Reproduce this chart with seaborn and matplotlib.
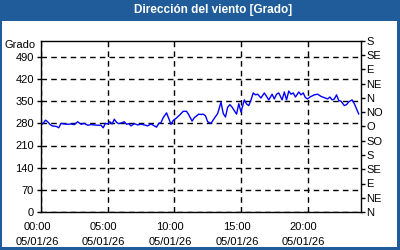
import matplotlib
matplotlib.use("Agg")
import matplotlib.pyplot as plt
import matplotlib.transforms as mtrans
import seaborn as sns
import pandas as pd
from matplotlib.patches import Rectangle
from matplotlib.ticker import MultipleLocator

# ---------------- data ----------------
times = ["00:00","00:10","00:20","00:30","00:40","00:50","01:00","01:10","01:20","01:30",
         "01:45","02:00","02:15","02:30","02:45","03:00","03:15","03:30","03:45","04:00",
         "04:15","04:30","04:40","04:50","05:00","05:10","05:20","05:30","05:40","05:50",
         "06:00","06:15","06:25","06:35","06:45","07:00","07:15","07:30","07:45","08:00",
         "08:15","08:30","08:40","08:50","09:00","09:10","09:25","09:35","09:45","09:55",
         "10:10","10:25","10:40","10:55","11:05","11:20","11:30","11:50","12:00","12:10",
         "12:20","12:30","12:45","13:00","13:15","13:30","13:40","13:50","14:00","14:10",
         "14:20","14:40","14:50","15:00","15:15","15:25","15:35","15:45","15:55","16:05",
         "16:15","16:30","16:45","17:05","17:20","17:30","17:40","17:50","18:05","18:15",
         "18:25","18:35","18:45","18:55","19:05","19:20","19:30","19:40","19:50","20:00",
         "20:10","20:30","20:45","21:00","21:15","21:30","21:40","21:50","22:00","22:10",
         "22:20","22:30","22:45","22:55","23:05","23:20","23:30","23:50"]
direction = [275,280,290,285,277,272,271,270,266,280,
             278,277,278,276,285,277,280,274,276,275,
             274,274,266,280,278,285,278,293,283,279,
             281,285,277,279,272,279,275,277,275,272,
             278,272,268,280,282,298,313,295,277,289,
             297,307,318,318,307,287,298,309,308,309,
             304,285,280,296,311,347,311,300,331,339,
             331,309,342,316,354,341,336,354,376,370,
             372,360,376,354,372,357,372,376,354,379,
             354,382,372,376,363,379,370,376,361,357,
             363,370,372,365,361,357,363,354,357,370,
             352,350,336,339,348,354,342,309]

left_ticks = [0, 70, 140, 210, 280, 350, 420, 490]
right_ticks = [0, 45, 90, 135, 180, 225, 270, 315, 360, 405, 450, 495, 540]
right_labels = ["N", "NE", "E", "SE", "S", "SO", "O", "NO", "N", "NE", "E", "SE", "S"]
x_ticks = [0, 5, 10, 15, 20]
x_labels = ["00:00\n05/01/26", "05:00\n05/01/26", "10:00\n05/01/26",
            "15:00\n05/01/26", "20:00\n05/01/26"]
title = "Dirección del viento [Grado]"
unit = "Grado"

hours = [int(t[:2]) + int(t[3:]) / 60 for t in times]
df = pd.DataFrame({"hora": hours, "dir": direction})

# ---------------- style ----------------
sns.set_style("white")
plt.rcParams["font.family"] = ["Liberation Sans", "DejaVu Sans"]
plt.rcParams["font.size"] = 8
plt.rcParams["text.color"] = "black"
plt.rcParams["xtick.color"] = "black"
plt.rcParams["ytick.color"] = "black"

W, H = 400, 250
fig = plt.figure(figsize=(4, 2.5), dpi=100)
frame = "#1f5c99"
fig.patch.set_facecolor(frame)
fig.patches.append(Rectangle((2 / W, 1 - 247 / H), 395 / W, 226 / H,
                             transform=fig.transFigure, facecolor="white",
                             edgecolor="none", zorder=-5))
fig.text(213 / W, 1 - 10.5 / H, title, color="white", fontweight="bold",
         fontsize=8.5, ha="center", va="center")

ax = fig.add_axes([41 / W, 1 - 212 / H, 320 / W, 171 / H])
ax.set_zorder(2)
ax.set_facecolor("white")
sns.lineplot(data=df, x="hora", y="dir", ax=ax, color="#0000ff", linewidth=1)

ax.set_xlim(0, 24)
ax.set_ylim(0, 540)
ax.set_xticks(x_ticks)
ax.set_xticklabels(x_labels, linespacing=1.65)
ax.xaxis.set_minor_locator(MultipleLocator(1))
ax.set_yticks(left_ticks)
ax.set_xlabel("")
ax.set_ylabel("")
ax.grid(True, color="black", linestyle=(0, (4, 3)), linewidth=1)
for s in ax.spines.values():
    s.set_color("black")
    s.set_linewidth(1)
    s.set_visible(True)
ax.tick_params(axis="both", which="major", direction="out", length=3,
               width=1, color="black", pad=2, labelsize=8, labelcolor="black")
ax.tick_params(axis="x", which="minor", direction="out", length=3, width=1,
               color="black")
ax.tick_params(axis="x", which="major", pad=4)
shift = mtrans.ScaledTranslation(-4 / 100, 0, fig.dpi_scale_trans)
for lbl in ax.get_xticklabels():
    lbl.set_transform(lbl.get_transform() + shift)

ax2 = ax.twinx()
ax2.set_ylim(0, 540)
ax2.set_yticks(right_ticks)
ax2.set_yticklabels(right_labels)
ax2.tick_params(axis="y", direction="out", length=3, width=1, color="black",
                pad=1, labelsize=8, labelcolor="black")
ax2.grid(False)
for s in ax2.spines.values():
    s.set_visible(False)

fig.text(36 / W, 1 - 45.5 / H, unit, ha="right", va="center", fontsize=8,
         color="black")

fig.savefig("out.png", dpi=100, facecolor=fig.get_facecolor())
